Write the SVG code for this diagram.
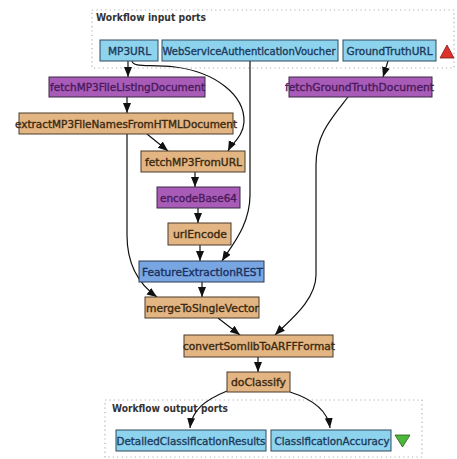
<svg xmlns="http://www.w3.org/2000/svg" width="457" height="459" viewBox="0 0 457 459">
<style>
.t{font-family:"DejaVu Sans",sans-serif;font-size:10px;font-weight:normal;text-anchor:middle;stroke-width:0.35px}
.port rect{fill:#8dd3ee;stroke:#2f4a5e;stroke-width:1}
.port text{fill:#1e3a5a;stroke:#1e3a5a}
.purple rect{fill:#a85cb8;stroke:#3a2a45;stroke-width:1}
.purple text{fill:#4a1a5a;stroke:#4a1a5a}
.tan rect{fill:#e3b583;stroke:#4a3a2a;stroke-width:1}
.tan text{fill:#3a2a12;stroke:#3a2a12}
.rest rect{fill:#78a6e2;stroke:#2a3a55;stroke-width:1}
.rest text{fill:#1a3060;stroke:#1a3060}
.frame{fill:#fff;stroke:#b0b0b0;stroke-width:1.2;stroke-dasharray:1.2,3.2}
.title{font-family:"DejaVu Sans",sans-serif;font-size:11px;font-weight:bold;fill:#333}
.e{fill:none;stroke:#111;stroke-width:1.2;marker-end:url(#ah)}
</style>
<defs>
<marker id="ah" markerUnits="userSpaceOnUse" markerWidth="10" markerHeight="10" viewBox="0 0 10 10" refX="10" refY="5" orient="auto">
<path d="M0,1 L10,5 L0,9 Z" fill="#111"/>
</marker>
</defs>
<rect width="457" height="459" fill="#fff"/>
<g id="inputs">
<rect class="frame" x="92" y="10" width="362" height="58"/>
<text class="title" x="96" y="21" textLength="110" lengthAdjust="spacingAndGlyphs">Workflow input ports</text>
<polygon points="447,45 454,58 440,58" fill="#e0302a" stroke="#7a1a1a" stroke-width="0.8"/>
</g>
<g id="outputs">
<rect class="frame" x="105" y="400" width="317" height="57"/>
<text class="title" x="112" y="412" textLength="116" lengthAdjust="spacingAndGlyphs">Workflow output ports</text>
<polygon points="395,435 410,435 402.5,447" fill="#4cb83a" stroke="#2a5a1a" stroke-width="0.8"/>
</g>
<g id="connectors">
<path class="e" d="M128,61 L128,77"/>
<path class="e" d="M132,61 C133,68 150,64 175,67 C215,72 245,95 244,122 C243,137 232,143 228,151"/>
<path class="e" d="M127,97 L127,113"/>
<path class="e" d="M147,134 L168,151"/>
<path class="e" d="M127,134 L127,235 C127,265 140,285 157,297"/>
<path class="e" d="M250,61 L250,195 C250,225 232,245 222,261"/>
<path class="e" d="M195,172 L195,187"/>
<path class="e" d="M198,208 L198,223"/>
<path class="e" d="M200,245 L200,261"/>
<path class="e" d="M202,282 L202,297"/>
<path class="e" d="M218,318 L240,335"/>
<path class="e" d="M388,61 L383,77"/>
<path class="e" d="M348,97 C330,120 316,135 316,165 L316,275 C316,300 290,320 275,335"/>
<path class="e" d="M258,357 L258,372"/>
<path class="e" d="M227,391 C205,400 192,410 190,428"/>
<path class="e" d="M290,392 C315,400 328,412 330,428"/>
</g>
<g id="MP3URL" class="port"><rect x="100" y="40" width="58" height="21"/><text class="t" x="129.5" y="54.5" textLength="43" lengthAdjust="spacingAndGlyphs">MP3URL</text></g>
<g id="WebServiceAuthenticationVoucher" class="port"><rect x="162" y="40" width="176" height="21"/><text class="t" x="249" y="54.5" textLength="173" lengthAdjust="spacingAndGlyphs">WebServiceAuthenticationVoucher</text></g>
<g id="GroundTruthURL" class="port"><rect x="343" y="40" width="93" height="21"/><text class="t" x="389.5" y="54.5" textLength="86" lengthAdjust="spacingAndGlyphs">GroundTruthURL</text></g>
<g id="fetchMP3FileListingDocument" class="purple"><rect x="49" y="77" width="156" height="20"/><text class="t" x="127.5" y="91" textLength="155" lengthAdjust="spacingAndGlyphs">fetchMP3FileListingDocument</text></g>
<g id="extractMP3FileNamesFromHTMLDocument" class="tan"><rect x="19" y="113" width="214" height="21"/><text class="t" x="126" y="127.5" textLength="222" lengthAdjust="spacingAndGlyphs">extractMP3FileNamesFromHTMLDocument</text></g>
<g id="fetchMP3FromURL" class="tan"><rect x="141" y="151" width="104" height="21"/><text class="t" x="193.5" y="165.5" textLength="97" lengthAdjust="spacingAndGlyphs">fetchMP3FromURL</text></g>
<g id="encodeBase64" class="purple"><rect x="157" y="187" width="83" height="21"/><text class="t" x="198.5" y="201.5" textLength="77" lengthAdjust="spacingAndGlyphs">encodeBase64</text></g>
<g id="urlEncode" class="tan"><rect x="168" y="223" width="63" height="22"/><text class="t" x="200" y="238" textLength="54" lengthAdjust="spacingAndGlyphs">urlEncode</text></g>
<g id="FeatureExtractionREST" class="rest"><rect x="139" y="261" width="125" height="21"/><text class="t" x="202.5" y="275.5" textLength="121" lengthAdjust="spacingAndGlyphs">FeatureExtractionREST</text></g>
<g id="mergeToSingleVector" class="tan"><rect x="145" y="297" width="114" height="21"/><text class="t" x="202.5" y="311.5" textLength="113" lengthAdjust="spacingAndGlyphs">mergeToSingleVector</text></g>
<g id="fetchGroundTruthDocument" class="purple"><rect x="289" y="77" width="143" height="20"/><text class="t" x="359.5" y="91" textLength="149" lengthAdjust="spacingAndGlyphs">fetchGroundTruthDocument</text></g>
<g id="convertSomlibToARFFFormat" class="tan"><rect x="184" y="335" width="149" height="22"/><text class="t" x="259" y="350" textLength="152" lengthAdjust="spacingAndGlyphs">convertSomlibToARFFFormat</text></g>
<g id="doClassify" class="tan"><rect x="227" y="372" width="63" height="20"/><text class="t" x="258.5" y="386" textLength="55" lengthAdjust="spacingAndGlyphs">doClassify</text></g>
<g id="DetailedClassificationResults" class="port"><rect x="116" y="430" width="150" height="21"/><text class="t" x="191" y="444.5" textLength="149" lengthAdjust="spacingAndGlyphs">DetailedClassificationResults</text></g>
<g id="ClassificationAccuracy" class="port"><rect x="271" y="430" width="120" height="21"/><text class="t" x="332" y="444.5" textLength="115" lengthAdjust="spacingAndGlyphs">ClassificationAccuracy</text></g>
</svg>
